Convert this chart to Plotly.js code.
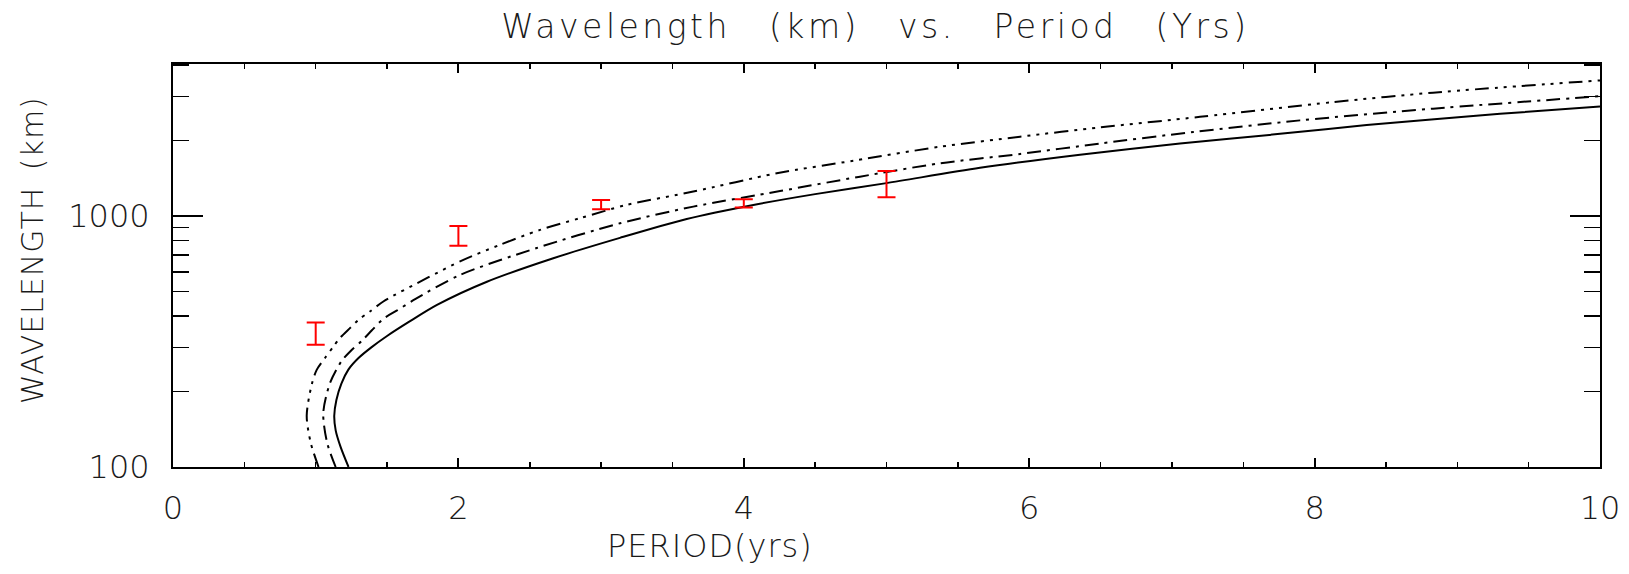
<!DOCTYPE html>
<html>
<head>
<meta charset="utf-8">
<script src="https://cdn.plot.ly/plotly-3.0.1.min.js"></script>
<style>
html, body { margin: 0; padding: 0; background: #ffffff; }
#chart { width: 1629px; height: 574px; }
.gtitle { letter-spacing: 3.5px; word-spacing: 24px; }
.annotation-text { letter-spacing: 1px; word-spacing: 6px; }
</style>
</head>
<body>
<div id="chart"></div>
<script>
// Solid curve (period in years, wavelength in km)
const solidPeriod = [1.23, 1.175, 1.14, 1.13, 1.145, 1.18, 1.23, 1.3, 1.39, 1.5, 1.65, 1.85, 2.2, 2.665, 3.132, 3.6, 4.067, 4.5, 5.0, 5.655, 6.356, 7.057, 7.758, 8.365, 9.3, 10.0];
const solidWavelength = [100, 120, 140, 160, 185, 215, 245, 272, 300, 333, 378, 443, 548, 680, 820, 975, 1109, 1225, 1355, 1560, 1760, 1950, 2130, 2310, 2560, 2740];

// Dash-dot curve
const dashDotPeriod = [1.14, 1.08, 1.053, 1.1, 1.18, 1.252, 1.322, 1.392, 1.474, 1.567, 1.7, 2.011, 2.549, 3.132, 3.646, 4.254, 4.814, 5.375, 5.936, 6.496, 7.15, 7.898, 8.83, 10.0];
const dashDotWavelength = [100, 125, 164, 216, 264, 293, 318, 350, 390, 420, 468, 583, 747, 937, 1092, 1260, 1438, 1626, 1771, 1950, 2167, 2411, 2684, 3010];

// Dash-dot-dot-dot curve
const dash3DotPeriod = [1.02, 0.965, 0.937, 0.972, 1.007, 1.065, 1.124, 1.17, 1.24, 1.299, 1.38, 1.474, 1.778, 2.035, 2.291, 2.572, 2.852, 3.178, 3.646, 4.231, 4.768, 5.375, 5.936, 6.496, 7.197, 8.131, 8.83, 10.0];
const dash3DotWavelength = [100, 125, 160, 213, 244, 272, 302, 327, 358, 386, 417, 457, 566, 670, 769, 882, 982, 1109, 1254, 1483, 1665, 1893, 2076, 2260, 2490, 2851, 3110, 3480];

// Observed wavelengths with error bars (red)
const obsPeriod = [1, 2, 3, 4, 5];
const obsWavelength = [340, 835, 1112, 1126, 1343];
const obsLow = [307, 762, 1066, 1084, 1191];
const obsHigh = [377, 915, 1161, 1169, 1515];

// Text
const titleText = 'Wavelength (km) vs. Period (Yrs)';
const xTitleText = 'PERIOD(yrs)';
const yTitleText = 'WAVELENGTH (km)';

const FONT = 'DejaVu Sans, Liberation Sans, sans-serif';
const INK = '#1a1a1a';

const errPlus = obsHigh.map((h, i) => h - obsWavelength[i]);
const errMinus = obsLow.map((l, i) => obsWavelength[i] - l);

const traces = [
  {
    x: solidPeriod, y: solidWavelength, type: 'scatter', mode: 'lines',
    line: { color: '#000', width: 2, shape: 'spline', smoothing: 0.8 },
    hoverinfo: 'skip'
  },
  {
    x: dashDotPeriod, y: dashDotWavelength, type: 'scatter', mode: 'lines',
    line: { color: '#000', width: 2, dash: '14px,6px,3px,6px', shape: 'spline', smoothing: 0.8 },
    hoverinfo: 'skip'
  },
  {
    x: dash3DotPeriod, y: dash3DotWavelength, type: 'scatter', mode: 'lines',
    line: { color: '#000', width: 2, dash: '14px,6px,3px,6px,3px,6px,3px,6px', shape: 'spline', smoothing: 0.8 },
    hoverinfo: 'skip'
  },
  {
    x: obsPeriod, y: obsWavelength, type: 'scatter', mode: 'markers',
    marker: { size: 1, color: 'rgba(0,0,0,0)' },
    error_y: {
      type: 'data', symmetric: false, array: errPlus, arrayminus: errMinus,
      color: '#ff0000', thickness: 2, width: 9
    },
    hoverinfo: 'skip'
  }
];

const layout = {
  width: 1629,
  height: 574,
  margin: { l: 173, r: 29, t: 64, b: 107, pad: 0 },
  paper_bgcolor: '#ffffff',
  plot_bgcolor: '#ffffff',
  showlegend: false,
  title: {
    text: titleText,
    font: { family: FONT, size: 33, color: INK, weight: 300 },
    xref: 'container', x: 875.5 / 1629, xanchor: 'center',
    yref: 'container', y: 1 - 26 / 574, yanchor: 'middle'
  },
  xaxis: {
    range: [0, 10],
    tick0: 0, dtick: 2,
    ticks: 'inside', ticklen: 9, tickwidth: 2, tickcolor: '#000',
    minor: { tick0: 0, dtick: 0.5, ticks: 'inside', ticklen: 5, tickwidth: 1.5, tickcolor: '#000', showgrid: false },
    showline: true, linewidth: 2, linecolor: '#000', mirror: 'ticks',
    showgrid: false, zeroline: false,
    tickfont: { family: FONT, size: 32, color: INK, weight: 300 },
    ticklabelstandoff: 12
  },
  yaxis: {
    type: 'log',
    range: [2, 3.607],
    dtick: 1,
    exponentformat: 'none',
    ticks: 'inside', ticklen: 30, tickwidth: 2, tickcolor: '#000',
    minor: { dtick: 'D1', ticks: 'inside', ticklen: 16, tickwidth: 1.5, tickcolor: '#000', showgrid: false },
    showline: true, linewidth: 2, linecolor: '#000', mirror: 'ticks',
    showgrid: false, zeroline: false,
    tickfont: { family: FONT, size: 32, color: INK, weight: 300 },
    ticklabelstandoff: 15
  },
  annotations: [
    {
      text: xTitleText, showarrow: false,
      xref: 'paper', x: (710 - 173) / 1427, xanchor: 'center',
      yref: 'paper', y: (467 - 546) / 403, yanchor: 'middle',
      font: { family: FONT, size: 32, color: INK, weight: 300 }
    },
    {
      text: yTitleText, showarrow: false, textangle: -90,
      xref: 'paper', x: (32 - 173) / 1427, xanchor: 'center',
      yref: 'paper', y: (467 - 250) / 403, yanchor: 'middle',
      font: { family: FONT, size: 30, color: INK, weight: 300 }
    }
  ]
};

Plotly.newPlot('chart', traces, layout, { displayModeBar: false, staticPlot: true });
</script>
</body>
</html>
